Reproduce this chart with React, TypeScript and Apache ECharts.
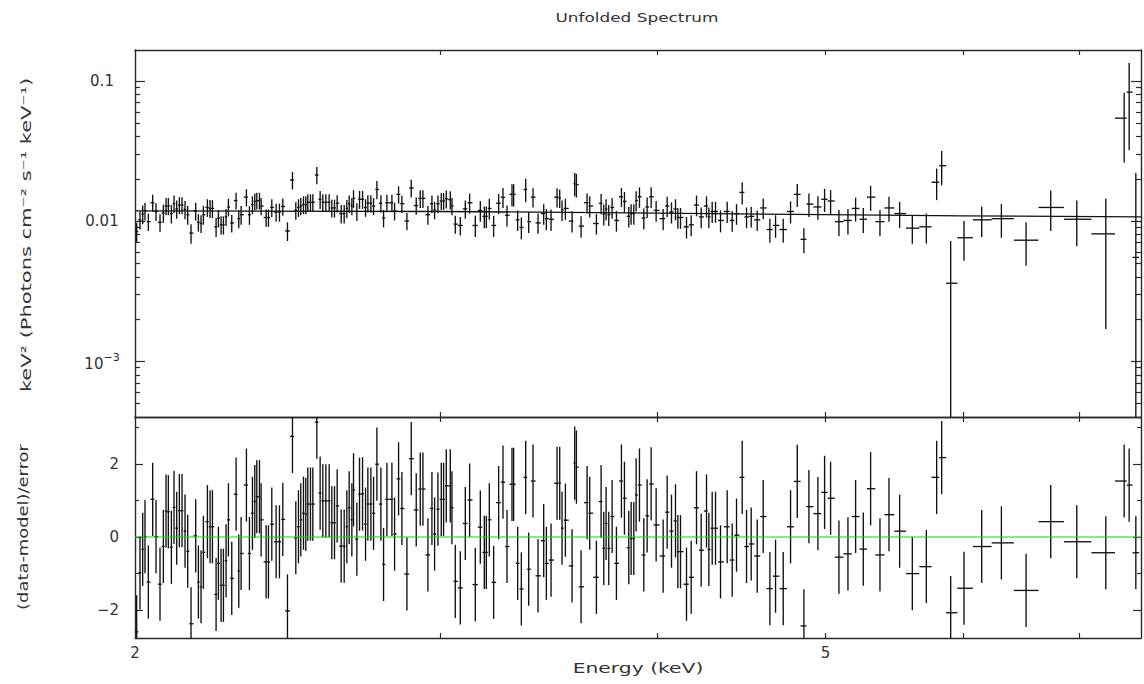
import React, { useEffect, useRef } from "react";
import * as echarts from "echarts";

// ---------- data ----------
const energy = [
  2.0044, 2.0133, 2.0205, 2.0267, 2.0357, 2.0475, 2.0566, 2.0675, 2.0767, 2.0841,
  2.0905, 2.0989, 2.1063, 2.1138, 2.1213, 2.1288, 2.1373, 2.1449, 2.1544, 2.1678,
  2.1755, 2.1832, 2.19, 2.2017, 2.2095, 2.2164, 2.2272, 2.2341, 2.242, 2.249,
  2.2569, 2.264, 2.274, 2.2871, 2.2953, 2.3024, 2.3187, 2.328, 2.3373, 2.3446,
  2.3508, 2.3592, 2.3644, 2.3801, 2.3875, 2.3981, 2.4119, 2.4226, 2.4334, 2.4485,
  2.4648, 2.4757, 2.4845, 2.4922, 2.5011, 2.5088, 2.5155, 2.5244, 2.5323, 2.5458,
  2.557, 2.5661, 2.5764, 2.5878, 2.597, 2.6062, 2.6154, 2.6294, 2.6399, 2.6492,
  2.6575, 2.6669, 2.6728, 2.6847, 2.6942, 2.705, 2.7158, 2.7242, 2.7351, 2.7448,
  2.757, 2.7717, 2.7815, 2.7939, 2.8125, 2.8225, 2.8375, 2.8501, 2.8691, 2.8856,
  2.9048, 2.9203, 2.9307, 2.9502, 2.9659, 2.9764, 2.9896, 3.0029, 3.0122, 3.0229,
  3.039, 3.0458, 3.0593, 3.0797, 3.1002,
  3.1181, 3.1416, 3.1626, 3.1794, 3.1879, 3.2006, 3.219, 3.2405, 3.2592, 3.2766,
  3.2984, 3.3057, 3.3233, 3.3396, 3.3589, 3.3723, 3.3917, 3.4143, 3.4401, 3.4523,
  3.4738, 3.5016, 3.514, 3.5249, 3.5406, 3.5721, 3.5847, 3.5927, 3.615, 3.6439,
  3.6568, 3.6894, 3.7124, 3.7255, 3.7371, 3.7503, 3.767, 3.7887, 3.814, 3.8292,
  3.8513, 3.8633, 3.877, 3.889, 3.9063, 3.9288, 3.9463, 3.9673, 3.9937, 4.0311,
  4.0526, 4.0759, 4.0976, 4.1104, 4.1249, 4.1579, 4.1838, 4.2135, 4.2397, 4.2698,
  4.2831, 4.3021, 4.3211, 4.3499, 4.3886, 4.4178, 4.4433, 4.4769, 4.5027, 4.5307,
  4.567, 4.6035, 4.6444, 4.6795, 4.7274, 4.7736, 4.8161, 4.8589, 4.8913,
  4.9501, 4.9941, 5.0341, 5.0901, 5.1513, 5.204, 5.2573, 5.3087, 5.3749, 5.4395,
  5.5171, 5.6107, 5.716, 5.795, 5.8336, 5.9037, 6.0092, 6.1519, 6.3147, 6.525,
  6.7422, 6.9791, 7.2531, 7.4319, 7.4814, 7.548,
];

const flux = [
  0.0084, 0.0102, 0.0112, 0.0118, 0.0099, 0.0135, 0.0117, 0.0098, 0.0114, 0.0128,
  0.0128, 0.0113, 0.0133, 0.0122, 0.013, 0.013, 0.0121, 0.0111, 0.0082, 0.0118,
  0.0098, 0.0096, 0.0111, 0.0125, 0.0123, 0.0123, 0.0091, 0.0105, 0.0094, 0.0094,
  0.0107, 0.0126, 0.0097, 0.014, 0.0104, 0.0111, 0.0148, 0.0111, 0.0131, 0.0138,
  0.014, 0.014, 0.0128, 0.0106, 0.0106, 0.0125, 0.0116, 0.0116, 0.0127, 0.0085,
  0.0196, 0.0119, 0.0125, 0.0128, 0.0131, 0.0131, 0.0136, 0.0136, 0.0136, 0.0213,
  0.0143, 0.0136, 0.0136, 0.0136, 0.0124, 0.0124, 0.0134, 0.0113, 0.0113, 0.0123,
  0.0133, 0.0128, 0.0145, 0.0117, 0.0143, 0.0143, 0.0125, 0.0134, 0.0134, 0.0128,
  0.0168, 0.0134, 0.0105, 0.0135, 0.0135, 0.0118, 0.0155, 0.0133, 0.01, 0.0172,
  0.0129, 0.0145, 0.0145, 0.0111, 0.0133, 0.012, 0.0133, 0.0139, 0.0139, 0.0144,
  0.0142, 0.0128, 0.0095, 0.0093, 0.0122,
  0.0135, 0.0093, 0.0119, 0.0108, 0.0108, 0.0123, 0.0093, 0.0134, 0.0148, 0.011,
  0.0155, 0.0155, 0.0102, 0.009, 0.0168, 0.0099, 0.0148, 0.0097, 0.0113, 0.0104,
  0.0103, 0.0148, 0.0146, 0.012, 0.0123, 0.01, 0.0185, 0.0182, 0.0092, 0.0135,
  0.0128, 0.0096, 0.0134, 0.0112, 0.0122, 0.0111, 0.0125, 0.0101, 0.0149, 0.0138,
  0.0108, 0.0113, 0.0113, 0.014, 0.0149, 0.0105, 0.0126, 0.0149, 0.0119, 0.0104,
  0.0128, 0.0116, 0.0122, 0.0106, 0.0106, 0.0091, 0.0094, 0.013, 0.0107, 0.0128,
  0.0107, 0.0117, 0.0117, 0.0101, 0.0117, 0.0101, 0.0113, 0.016, 0.0107, 0.0108,
  0.0102, 0.0124, 0.0087, 0.0093, 0.0087, 0.0117, 0.0155, 0.0074, 0.0132,
  0.0126, 0.0143, 0.0139, 0.0099, 0.0101, 0.0123, 0.0103, 0.0148, 0.0099, 0.0124,
  0.0113, 0.0089, 0.0091, 0.0189, 0.0248, 0.0036, 0.0076, 0.0102, 0.0104, 0.0073,
  0.0125, 0.0103, 0.0081, 0.0542, 0.083, 0.0055,
];

const fluxErr = [
  0.0013, 0.0015, 0.0017, 0.0017, 0.0014, 0.0019, 0.0017, 0.0014, 0.0017, 0.0018,
  0.0018, 0.0017, 0.0019, 0.0018, 0.0018, 0.0018, 0.0018, 0.0017, 0.0013, 0.0017,
  0.0014, 0.0014, 0.0017, 0.0018, 0.0018, 0.0018, 0.0014, 0.0015, 0.0014, 0.0014,
  0.0015, 0.0018, 0.0014, 0.0019, 0.0015, 0.0017, 0.0021, 0.0017, 0.0019, 0.0019,
  0.0019, 0.0019, 0.0018, 0.0015, 0.0015, 0.0018, 0.0017, 0.0017, 0.0018, 0.0013,
  0.0028, 0.0017, 0.0018, 0.0018, 0.0019, 0.0019, 0.0019, 0.0019, 0.0019, 0.003,
  0.0021, 0.0019, 0.0019, 0.0019, 0.0018, 0.0018, 0.0019, 0.0017, 0.0017, 0.0018,
  0.0019, 0.0018, 0.0021, 0.0017, 0.0021, 0.0021, 0.0018, 0.0019, 0.0019, 0.0018,
  0.0025, 0.0019, 0.0015, 0.0019, 0.0019, 0.0017, 0.0022, 0.0019, 0.0014, 0.0025,
  0.0018, 0.0021, 0.0021, 0.0017, 0.0019, 0.0017, 0.0019, 0.0019, 0.0019, 0.0021,
  0.0021, 0.0018, 0.0014, 0.0014, 0.0018,
  0.0022, 0.0016, 0.002, 0.0019, 0.0019, 0.0021, 0.0016, 0.0022, 0.0024, 0.0019,
  0.0028, 0.0028, 0.0017, 0.0016, 0.0032, 0.0017, 0.0023, 0.0016, 0.0019, 0.0018,
  0.0018, 0.0023, 0.0022, 0.002, 0.0021, 0.0017, 0.0035, 0.0035, 0.0016, 0.0022,
  0.0022, 0.0016, 0.0022, 0.0019, 0.0021, 0.0019, 0.0021, 0.0017, 0.0023, 0.0023,
  0.0018, 0.0019, 0.0019, 0.0023, 0.0025, 0.0018, 0.0021, 0.0025, 0.002, 0.0018,
  0.0021, 0.002, 0.0021, 0.0018, 0.0018, 0.0016, 0.0016, 0.0022, 0.0018, 0.0022,
  0.0018, 0.002, 0.002, 0.0018, 0.002, 0.0017, 0.0019, 0.0029, 0.0018, 0.0018,
  0.0017, 0.0021, 0.0017, 0.0017, 0.0017, 0.0021, 0.0029, 0.0015, 0.0025,
  0.0024, 0.0027, 0.0027, 0.0021, 0.0021, 0.0024, 0.0021, 0.003, 0.0021, 0.0025,
  0.0024, 0.002, 0.0022, 0.0048, 0.0068, 0.0036, 0.0024, 0.0025, 0.0028, 0.0025,
  0.004, 0.0037, 0.0064, 0.028, 0.051, 0.0165,
];

const resid = [
  -2.59, -0.98, -0.34, 0.01, -1.23, 1.03, 0.01, -1.29, -0.26, 0.71,
  0.69, -0.28, 0.81, 0.24, 0.72, 0.72, 0.16, -0.39, -2.37, 0.03,
  -1.23, -1.36, -0.42, 0.42, 0.28, 0.28, -1.57, -0.72, -1.32, -1.32,
  -0.65, 0.47, -1.13, 1.17, -0.93, -0.45, 1.42, -0.45, 0.65, 0.97,
  1.1, 1.1, 0.47, -0.68, -0.68, 0.35, -0.13, -0.13, 0.48, -2.02,
  2.75, -0.02, 0.28, 0.47, 0.65, 0.62, 0.9, 0.9, 0.9, 3.14,
  1.2, 0.99, 0.99, 0.99, 0.39, 0.39, 0.85, -0.25, -0.25, 0.28,
  0.8, 0.47, 1.29, -0.06, 1.17, 1.18, 0.35, 0.9, 0.9, 0.65,
  1.99, 0.9, -0.75, 1.03, 1.03, 0.08, 1.59, 0.78, -1.01, 2.14,
  0.74, 1.31, 1.31, -0.49, 0.78, 0.08, 0.76, 1.03, 1.03, 1.4,
  1.4, 0.8, -1.21, -1.39, 0.37,
  1.01, -1.3, 0.27, -0.42, -0.42, 0.47, -1.24, 0.94, 1.5, -0.26,
  1.44, 1.44, -0.72, -1.42, 1.63, -0.88, 1.53, -1.06, -0.1, -0.72,
  -0.63, 1.47, 1.47, 0.24, 0.46, -0.79, 2.02, 1.91, -1.36, 0.94,
  0.65, -1.1, 0.97, -0.31, 0.37, -0.31, 0.56, -0.72, 1.53, 1.06,
  -0.29, -0.04, -0.04, 1.15, 1.42, -0.49, 0.58, 1.45, 0.33, -0.52,
  0.68, 0.16, 0.44, -0.4, -0.4, -1.29, -1.1, 0.8, -0.36, 0.71,
  -0.34, 0.24, 0.24, -0.68, 0.28, -0.63, 0.05, 1.63, -0.26, -0.19,
  -0.52, 0.56, -1.41, -1.07, -1.41, 0.28, 1.52, -2.43, 0.83,
  0.64, 1.22, 1.06, -0.55, -0.46, 0.56, -0.33, 1.32, -0.49, 0.61,
  0.16, -1.0, -0.81, 1.63, 2.17, -2.07, -1.4, -0.26, -0.16, -1.46,
  0.42, -0.13, -0.43, 1.53, 1.42, -0.43,
];

const modelEnergy = [2.0, 3.0, 4.0, 5.0, 6.0, 7.6];
const modelFlux = [0.0118, 0.0117, 0.0114, 0.0111, 0.0109, 0.0107];

const energyRange = [2, 7.6];
const fluxRange = [0.0004, 0.166];
const residRange = [-2.76, 3.28];
const energyTicks = [3, 4, 5, 6, 7];
const energyLabels = [2, 5];
const fluxMajorTicks = [0.001, 0.01, 0.1];
const fluxMinorTicks = [
  0.0005, 0.0006, 0.0007, 0.0008, 0.0009,
  0.002, 0.003, 0.004, 0.005, 0.006, 0.007, 0.008, 0.009,
  0.02, 0.03, 0.04, 0.05, 0.06, 0.07, 0.08, 0.09,
];
const residMajorTicks = [-2, 0, 2];
const residMinorTicks = [-1, 1, 3];

const titleText = "Unfolded Spectrum";
const xTitle = "Energy (keV)";
const yTopTitle = "keV² (Photons cm⁻² s⁻¹ keV⁻¹)";
const yBottomTitle = "(data-model)/error";

const FONT = "DejaVu Sans";
const TEXT = "#333";
const FRAME = "#2a2a2a";

function binEdges(i: number) {
  const e = energy[i];
  const lo = i === 0 ? e - (energy[1] - e) / 2 : (energy[i - 1] + e) / 2;
  const hi =
    i === energy.length - 1
      ? e + (e - energy[i - 1]) / 2
      : (e + energy[i + 1]) / 2;
  return [lo, hi];
}

function makeRender(isLog: boolean) {
  return (params: any, api: any) => {
    const cs = params.coordSys;
    const e = api.value(0);
    const lo = api.value(1);
    const hi = api.value(2);
    const y = api.value(3);
    let yl = api.value(4);
    const yh = api.value(5);
    if (isLog) yl = Math.max(yl, 1e-7);
    const c = api.coord([e, y]);
    const pl = api.coord([lo, y]);
    const ph = api.coord([hi, y]);
    const pyl = api.coord([e, yl]);
    const pyh = api.coord([e, yh]);
    const cX = (v: number) => Math.min(Math.max(v, cs.x), cs.x + cs.width);
    const cY = (v: number) => Math.min(Math.max(v, cs.y), cs.y + cs.height);
    const style = { stroke: "#111", lineWidth: 1.35 };
    return {
      type: "group",
      children: [
        {
          type: "line",
          shape: { x1: cX(pl[0]), y1: c[1], x2: cX(ph[0]), y2: c[1] },
          style,
        },
        {
          type: "line",
          shape: { x1: c[0], y1: cY(pyh[1]), x2: c[0], y2: cY(pyl[1]) },
          style,
        },
      ],
    };
  };
}

function wideText(
  text: string,
  x: number,
  y: number,
  fontSize: number,
  scaleX: number,
  rotation = 0
) {
  return {
    type: "text",
    x,
    y,
    rotation,
    scaleX,
    scaleY: 1,
    silent: true,
    style: {
      text,
      fontFamily: FONT,
      fontSize,
      fill: TEXT,
      align: "center",
      verticalAlign: "middle",
      textAlign: "center",
      textVerticalAlign: "middle",
    },
  };
}

export default function App() {
  const ref = useRef<HTMLDivElement>(null);

  useEffect(() => {
    document.body.style.margin = "0";
    if (!ref.current) return;
    const chart = echarts.init(ref.current, null, { renderer: "svg" });

    const topData = energy.map((e, i) => {
      const [lo, hi] = binEdges(i);
      return [e, lo, hi, flux[i], flux[i] - fluxErr[i], flux[i] + fluxErr[i]];
    });
    const botData = energy.map((e, i) => {
      const [lo, hi] = binEdges(i);
      return [e, lo, hi, resid[i], resid[i] - 1, resid[i] + 1];
    });

    const lineStyle = { color: FRAME, width: 1.4 };
    const tickStyle = { color: FRAME, width: 1.2 };
    const labelStyle = { color: TEXT, fontFamily: FONT, fontSize: 15 };

    const xAx = (grid: number, pos: string, extra: any = {}) => ({
      gridIndex: grid,
      type: "log",
      logBase: 10,
      min: energyRange[0],
      max: energyRange[1],
      position: pos,
      axisLine: { show: true, onZero: false, lineStyle },
      axisTick: {
        show: true,
        inside: true,
        length: 5,
        customValues: energyTicks,
        lineStyle: tickStyle,
      },
      axisLabel: { show: false },
      splitLine: { show: false },
      minorTick: { show: false },
      ...extra,
    });

    const fluxAx = (pos: string, major: boolean, extra: any = {}) => ({
      gridIndex: 0,
      type: "log",
      logBase: 10,
      min: fluxRange[0],
      max: fluxRange[1],
      position: pos,
      axisLine: { show: major, onZero: false, lineStyle },
      axisTick: {
        show: true,
        inside: true,
        length: major ? 10 : 5,
        customValues: major ? fluxMajorTicks : fluxMinorTicks,
        lineStyle: tickStyle,
      },
      axisLabel: { show: false },
      splitLine: { show: false },
      ...extra,
    });

    const residAx = (pos: string, major: boolean, extra: any = {}) => ({
      gridIndex: 1,
      type: "value",
      min: residRange[0],
      max: residRange[1],
      position: pos,
      axisLine: { show: major, onZero: false, lineStyle },
      axisTick: {
        show: true,
        inside: true,
        length: major ? 8 : 4,
        customValues: major ? residMajorTicks : residMinorTicks,
        lineStyle: tickStyle,
      },
      axisLabel: { show: false },
      splitLine: { show: false },
      ...extra,
    });

    const fluxLabel = (v: number) => {
      if (Math.abs(v - 0.1) < 1e-6) return "0.1";
      if (Math.abs(v - 0.01) < 1e-7) return "0.01";
      return "{b|10}{s|−3}";
    };

    const option: any = {
      animation: false,
      backgroundColor: "#ffffff",
      grid: [
        { left: 135, top: 50, width: 1006, height: 367 },
        { left: 135, top: 417, width: 1006, height: 221 },
      ],
      graphic: [
        wideText(titleText, 637, 18, 13, 1.3),
        wideText(xTitle, 638, 668, 14, 1.45),
        wideText(yTopTitle, 26, 235, 14, 1.5, Math.PI / 2),
        wideText(yBottomTitle, 23, 527, 14, 1.28, Math.PI / 2),
      ],
      xAxis: [
        xAx(0, "bottom"),
        xAx(0, "top"),
        xAx(1, "bottom", {
          axisLabel: {
            show: true,
            customValues: energyLabels,
            margin: 7,
            ...labelStyle,
          },
        }),
        xAx(1, "top"),
      ],
      yAxis: [
        fluxAx("left", true, {
          axisLabel: {
            show: true,
            customValues: fluxMajorTicks,
            formatter: fluxLabel,
            align: "center",
            margin: 33,
            ...labelStyle,
            rich: {
              b: { fontFamily: FONT, fontSize: 15, color: TEXT, padding: [6, 0, 0, 0] },
              s: { fontFamily: FONT, fontSize: 11, color: TEXT, padding: [0, 0, 7, 0] },
            },
          },
        }),
        fluxAx("left", false),
        fluxAx("right", true),
        fluxAx("right", false),
        residAx("left", true, {
          axisLabel: {
            show: true,
            customValues: residMajorTicks,
            formatter: (v: number) => (v < 0 ? "−" + Math.abs(v) : String(v)),
            margin: 16,
            ...labelStyle,
          },
        }),
        residAx("left", false),
        residAx("right", true),
        residAx("right", false),
      ],
      series: [
        {
          type: "custom",
          xAxisIndex: 0,
          yAxisIndex: 0,
          renderItem: makeRender(true),
          encode: { x: [0, 1, 2], y: [3] },
          data: topData,
          silent: true,
        },
        {
          type: "line",
          xAxisIndex: 0,
          yAxisIndex: 0,
          data: modelEnergy.map((e, i) => [e, modelFlux[i]]),
          showSymbol: false,
          symbol: "none",
          lineStyle: { color: "#111", width: 1.3 },
          silent: true,
          z: 3,
        },
        {
          type: "custom",
          xAxisIndex: 2,
          yAxisIndex: 4,
          renderItem: makeRender(false),
          encode: { x: [0, 1, 2], y: [3] },
          data: botData,
          silent: true,
        },
        {
          type: "line",
          xAxisIndex: 2,
          yAxisIndex: 4,
          data: [
            [energyRange[0], 0],
            [energyRange[1], 0],
          ],
          showSymbol: false,
          symbol: "none",
          lineStyle: { color: "#00e000", width: 1.2 },
          silent: true,
          z: 3,
        },
      ],
    };

    chart.setOption(option);
    return () => chart.dispose();
  }, []);

  return (
    <div
      ref={ref}
      style={{ position: "absolute", left: 0, top: 0, width: 1144, height: 684 }}
    />
  );
}
